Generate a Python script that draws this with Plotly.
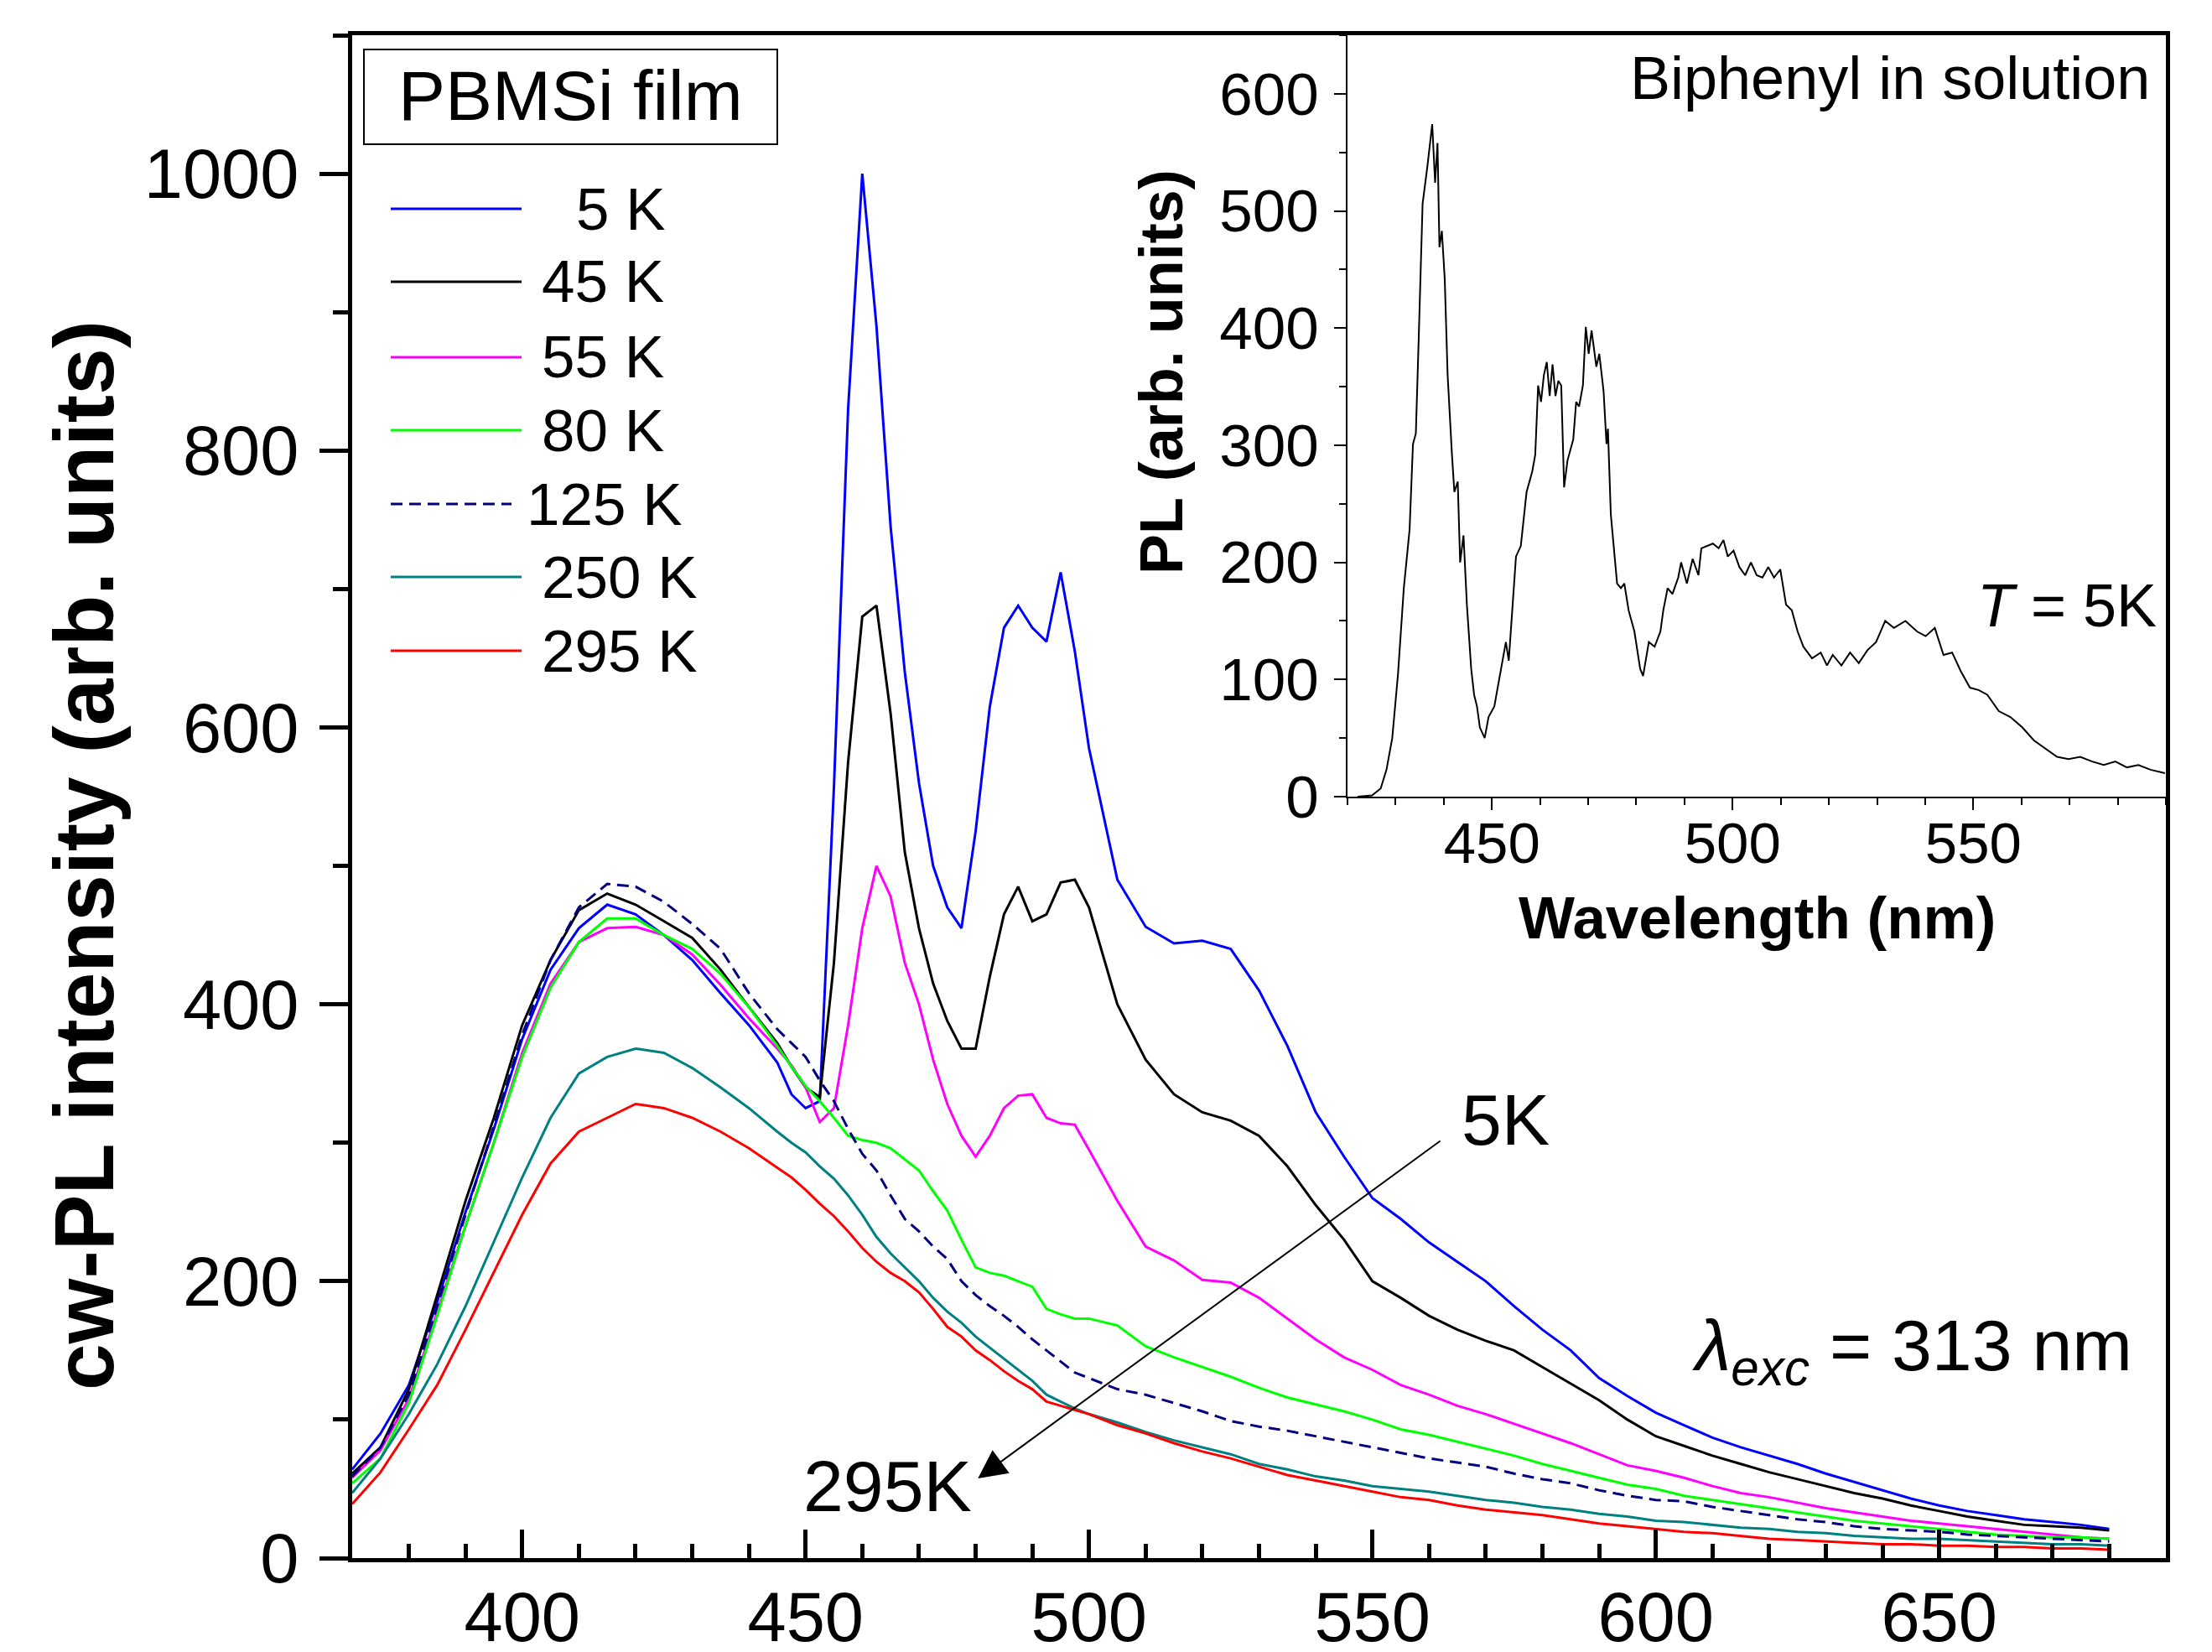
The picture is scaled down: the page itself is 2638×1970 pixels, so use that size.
import plotly.graph_objects as go

# ---- main panel: cw-PL of PBMSi film at several temperatures
wavelength = [370, 375, 380, 385, 390, 395, 400, 405, 410, 415, 420, 425, 430, 435, 440, 445,
              447.5, 450, 452.5, 455, 457.5, 460, 462.5, 465, 467.5, 470, 472.5, 475, 477.5, 480,
              482.5, 485, 487.5, 490, 492.5, 495, 497.5, 500,
              505, 510, 515, 520, 525, 530, 535, 540, 545, 550, 555, 560, 565, 570, 575, 580,
              585, 590, 595, 600, 605, 610, 615, 620, 625, 630, 635, 640, 645, 650, 655, 660,
              665, 670, 675, 680]

pl_5K = [64, 90, 125, 185, 250, 310, 375, 425, 455, 472, 465, 450, 432, 408, 385, 358,
         335, 325, 330, 557, 830, 1000, 890, 745, 640, 560, 500, 470, 455, 525,
         615, 672, 688, 672, 662, 712, 655, 585,
         490, 456, 444, 446, 440, 410, 370, 322, 290, 260, 245, 228, 214, 200, 182, 165,
         150, 130, 117, 105, 96, 87, 80, 74, 68, 61, 55, 49, 43, 38, 34, 31,
         28, 26, 24, 21]

pl_45K = [61, 80, 122, 190, 258, 318, 385, 432, 468, 480, 472, 460, 448, 425, 398, 372,
          355, 340, 333, 430, 575, 680, 688, 610, 510, 455, 415, 388, 368, 368,
          420, 465, 485, 460, 465, 488, 490, 470,
          400, 360, 335, 322, 316, 305, 283, 255, 230, 200, 188, 175, 165, 157, 150, 138,
          126, 114, 100, 88, 81, 74, 68, 62, 57, 52, 47, 43, 38, 34, 30, 27,
          24, 23, 22, 20]

pl_55K = [58, 78, 115, 178, 240, 300, 365, 415, 445, 455, 456, 450, 436, 414, 390, 368,
          356, 340, 315, 325, 385, 455, 500, 478, 430, 400, 360, 328, 305, 290,
          305, 325, 334, 335, 318, 314, 313, 295,
          258, 225, 215, 201, 199, 188, 173, 158, 145, 136, 125, 118, 110, 104, 97, 90,
          83, 75, 67, 63, 58, 52, 47, 44, 40, 36, 33, 30, 27, 25, 23, 21,
          19, 17, 15, 14]

pl_80K = [54, 72, 112, 175, 240, 300, 362, 412, 445, 462, 462, 450, 440, 422, 398, 370,
          355, 341, 330, 318, 305, 302, 300, 296, 288, 280, 265, 251, 230, 210,
          206, 204, 200, 196, 180, 176, 173, 173,
          168, 153, 145, 138, 131, 123, 116, 111, 106, 100, 93, 89, 84, 79, 74, 68,
          63, 58, 53, 50, 45, 42, 39, 36, 33, 30, 27, 25, 23, 21, 19, 17,
          16, 15, 15, 14]

pl_125K = [59, 80, 118, 182, 248, 312, 378, 432, 470, 487, 485, 474, 458, 440, 408, 382,
           372, 362, 345, 330, 310, 292, 280, 262, 245, 236, 225, 216, 200, 190,
           182, 175, 167, 158, 150, 142, 134, 130,
           122, 118, 112, 106, 99, 95, 92, 88, 84, 80, 76, 72, 69, 66, 61, 57,
           54, 49, 45, 42, 41, 37, 34, 31, 28, 26, 23, 21, 20, 19, 17, 16,
           15, 14, 13, 12]

pl_250K = [47, 72, 104, 140, 182, 228, 275, 318, 350, 362, 368, 365, 354, 340, 325, 308,
           300, 293, 283, 274, 262, 248, 232, 220, 210, 200, 188, 178, 170, 160,
           152, 144, 136, 128, 118, 113, 108, 104,
           98, 91, 85, 80, 75, 68, 64, 59, 56, 52, 50, 48, 45, 42, 40, 37,
           35, 32, 30, 27, 26, 24, 22, 21, 19, 18, 16, 15, 14, 14, 13, 12,
           11, 10, 10, 9]

pl_295K = [39, 62, 93, 125, 165, 207, 248, 285, 308, 318, 328, 325, 318, 308, 296, 282,
           275, 266, 256, 247, 236, 224, 214, 206, 200, 192, 180, 167, 160, 150,
           143, 135, 128, 122, 113, 110, 107, 104,
           96, 90, 83, 77, 72, 66, 60, 56, 52, 48, 44, 42, 38, 35, 33, 31,
           28, 25, 23, 21, 19, 18, 16, 14, 13, 12, 11, 10, 10, 9, 9, 8,
           8, 7, 7, 6]

labels = ['5 K', '45 K', '55 K', '80 K', '125 K', '250 K', '295 K']
colors = ['#0000ff', '#000000', '#ff00ff', '#00ff00', '#000080', '#008080', '#ff0000']
dashes = ['solid', 'solid', 'solid', 'solid', '14px,8px', 'solid', 'solid']
series = [pl_5K, pl_45K, pl_55K, pl_80K, pl_125K, pl_250K, pl_295K]

# arrow from 5K to 295K (data coords)
arrow_tail = (562.2, 302)
arrow_tip = (480.4, 57.5)

# ---- inset: biphenyl in solution, T = 5K
bp_wl = [422.1, 425.1, 426.9, 428.1, 429.3, 430.5, 431.7, 432.9, 433.6, 434.2, 434.8, 435.6,
         436.6, 437.6, 438.2, 438.7, 439.1, 439.6, 440.2, 440.8, 441.7, 442.2, 442.9, 443.4,
         444.1, 444.8, 445.7, 446.3, 446.9, 447.5, 448.5, 449.3, 450.5, 451.7, 452.9, 453.5,
         454.2, 455.0, 456.0, 457.2, 458.4, 459.0, 459.6, 460.2, 460.8, 461.4, 462.0, 462.6,
         463.2, 463.8, 464.4, 465.0, 465.7, 466.9, 467.5, 468.1, 468.9, 469.5, 470.1, 470.7,
         471.7, 472.3, 473.2, 473.8, 474.1, 474.7, 476.0, 476.8, 477.5, 478.4, 479.6, 480.8,
         481.4, 482.6, 483.8, 485.0, 485.6, 486.5, 487.5, 488.7, 489.3, 490.5, 491.7, 492.9,
         493.5, 494.7, 495.9, 497.1, 498.1, 499.0, 500.2, 501.4, 502.6, 503.8, 505.0, 506.2,
         507.4, 508.6, 509.9, 511.1, 512.3, 513.5, 514.7, 516.5, 518.3, 519.6, 520.8, 522.6,
         524.4, 526.2, 528.0, 529.8, 531.7, 533.5, 535.9, 538.3, 540.1, 542.0, 543.8, 545.6,
         547.4, 549.3, 551.1, 552.9, 555.3, 557.7, 560.2, 562.6, 565.0, 567.4, 569.8, 572.2,
         574.7, 577.1, 579.5, 581.9, 584.3, 586.8, 589.8]
bp_pl = [0, 1, 7, 23, 50, 105, 178, 228, 301, 310, 392, 506,
         538, 574, 524, 558, 469, 483, 442, 360, 292, 260, 269, 200,
         223, 164, 109, 87, 77, 59, 50, 68, 77, 105, 132, 116,
         159, 205, 214, 260, 278, 292, 351, 337, 360, 371, 342, 369,
         342, 355, 351, 264, 287, 305, 337, 333, 351, 401, 378, 398,
         367, 378, 346, 301, 314, 241, 182, 178, 182, 159, 141, 109,
         103, 132, 128, 141, 159, 178, 173, 187, 200, 182, 203, 189,
         212, 214, 216, 212, 219, 205, 210, 196, 189, 200, 189, 187,
         196, 187, 194, 164, 159, 141, 128, 118, 123, 112, 121, 112,
         123, 114, 125, 132, 150, 144, 150, 141, 137, 144, 121, 123,
         107, 93, 91, 87, 73, 68, 59, 48, 41, 34, 32, 34,
         30, 27, 30, 25, 27, 23, 20]

# ---- page geometry (pixels); the page body adds an 8px offset, so the figure is 8px smaller
W, H = 2638, 1970
OFF = 8
L, R, T, B = 420, 55, 42, 112
FONT = 'Liberation Sans, Arial, sans-serif'


def px(x):
    return (x - L) / (W - L - R)


def py(y):
    return (H - B - y) / (H - T - B)


fig = go.Figure()

for lab, col, dsh, ys in zip(labels, colors, dashes, series):
    fig.add_trace(go.Scatter(x=wavelength, y=ys, mode='lines', name=lab,
                             line=dict(color=col, width=3, dash=dsh),
                             showlegend=False, xaxis='x', yaxis='y'))

fig.add_trace(go.Scatter(x=bp_wl, y=bp_pl, mode='lines', line=dict(color='black', width=2),
                         showlegend=False, xaxis='x2', yaxis='y2'))

shapes = []
annotations = []

# "PBMSi film" box
shapes.append(dict(type='rect', xref='paper', yref='paper',
                   x0=px(434), x1=px(927), y0=py(172), y1=py(59),
                   line=dict(color='black', width=2)))
annotations.append(dict(text='PBMSi film', xref='paper', yref='paper', x=px(680), y=py(114),
                        xanchor='center', yanchor='middle', showarrow=False,
                        font=dict(size=84, color='black')))

# hand-drawn legend
row_y = [249, 336, 426, 513, 601, 688, 776]
text_x = [685, 644, 644, 644, 626, 644, 644]
for i, lab in enumerate(labels):
    x1 = 610 if dashes[i] != 'solid' else 622
    shapes.append(dict(type='line', xref='paper', yref='paper',
                       x0=px(466), x1=px(x1), y0=py(row_y[i]), y1=py(row_y[i]),
                       line=dict(color=colors[i], width=3, dash=dashes[i])))
    annotations.append(dict(text=lab, xref='paper', yref='paper', x=px(text_x[i]), y=py(row_y[i]),
                            xanchor='left', yanchor='middle', showarrow=False,
                            font=dict(size=71, color='black')))

# arrow and its labels
annotations.append(dict(x=arrow_tip[0], y=arrow_tip[1], ax=arrow_tail[0], ay=arrow_tail[1],
                        xref='x', yref='y', axref='x', ayref='y', text='', showarrow=True,
                        arrowhead=2, arrowsize=3.4, arrowwidth=2, arrowcolor='black'))
annotations.append(dict(text='5K', xref='paper', yref='paper', x=px(1741), y=py(1335),
                        xanchor='left', yanchor='middle', showarrow=False,
                        font=dict(size=86, color='black')))
annotations.append(dict(text='295K', xref='paper', yref='paper', x=px(1161), y=py(1772),
                        xanchor='right', yanchor='middle', showarrow=False,
                        font=dict(size=86, color='black')))
annotations.append(dict(text='<i>λ</i><sub><i>exc</i></sub> = 313 nm', xref='paper', yref='paper',
                        x=px(2545), y=py(1610), xanchor='right', yanchor='middle', showarrow=False,
                        font=dict(size=86, color='black')))

# axis titles
annotations.append(dict(text='<b>cw-PL intensity (arb. units)</b>', xref='paper', yref='paper',
                        x=px(100), y=py(1020), textangle=-90, xanchor='center', yanchor='middle',
                        showarrow=False, font=dict(size=100, color='black')))
annotations.append(dict(text='<b>PL (arb. units)</b>', xref='paper', yref='paper',
                        x=px(1385), y=py(444), textangle=-90, xanchor='center', yanchor='middle',
                        showarrow=False, font=dict(size=72, color='black')))
annotations.append(dict(text='<b>Wavelength (nm)</b>', xref='paper', yref='paper',
                        x=px(2095), y=py(1095), xanchor='center', yanchor='middle',
                        showarrow=False, font=dict(size=71, color='black')))
annotations.append(dict(text='Biphenyl in solution', xref='paper', yref='paper',
                        x=px(2566), y=py(93), xanchor='right', yanchor='middle',
                        showarrow=False, font=dict(size=72, color='black')))
annotations.append(dict(text='<i>T</i> = 5K', xref='paper', yref='paper',
                        x=px(2574), y=py(722), xanchor='right', yanchor='middle',
                        showarrow=False, font=dict(size=72, color='black')))

fig.update_layout(
    width=W - OFF, height=H - OFF,
    margin=dict(l=L - OFF, r=R, t=T - OFF, b=B),
    paper_bgcolor='white', plot_bgcolor='white',
    font=dict(family=FONT, color='black'),
    shapes=shapes, annotations=annotations,
    xaxis=dict(range=[370, 690], dtick=50, tick0=400, ticks='inside', ticklen=34, tickwidth=5,
               tickcolor='black', showline=True, linewidth=5, linecolor='black', mirror=True,
               showgrid=False, zeroline=False, tickfont=dict(size=83), ticklabelstandoff=-6,
               automargin=False,
               minor=dict(dtick=10, ticks='inside', ticklen=17, tickwidth=5, tickcolor='black')),
    yaxis=dict(range=[0, 1100], dtick=200, tick0=0, ticks='outside', ticklen=34, tickwidth=5,
               tickcolor='black', showline=True, linewidth=5, linecolor='black', mirror=True,
               showgrid=False, zeroline=False, tickfont=dict(size=83), ticklabelstandoff=8,
               automargin=False,
               minor=dict(dtick=100, ticks='outside', ticklen=18, tickwidth=5, tickcolor='black')),
    xaxis2=dict(domain=[px(1607), 1], anchor='y2', range=[420, 590], dtick=50, tick0=450,
                ticks='outside', ticklen=14, tickwidth=2, tickcolor='black',
                showline=True, linewidth=2, linecolor='black', showgrid=False, zeroline=False,
                tickfont=dict(size=69), ticklabelstandoff=-20, automargin=False,
                minor=dict(dtick=10, ticks='outside', ticklen=8, tickwidth=2, tickcolor='black')),
    yaxis2=dict(domain=[0.5, 1], anchor='x2', range=[0, 650], dtick=100, tick0=0,
                ticks='outside', ticklen=14, tickwidth=2, tickcolor='black',
                showline=True, linewidth=2, linecolor='black', showgrid=False, zeroline=False,
                tickfont=dict(size=71), ticklabelstandoff=4, automargin=False,
                minor=dict(dtick=50, ticks='outside', ticklen=8, tickwidth=2, tickcolor='black')),
)

fig.write_html("out.html")
